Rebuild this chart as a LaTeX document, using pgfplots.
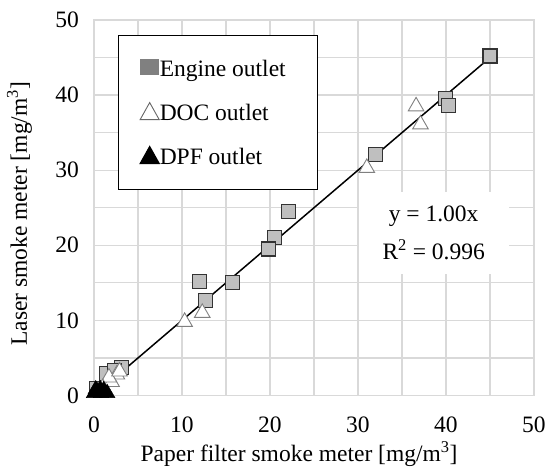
\documentclass[border=0pt]{standalone}
\usepackage{pgfplots}
\pgfplotsset{compat=1.18}
\usepackage{fontspec}
\setmainfont{Liberation Serif}

\definecolor{gridgray}{HTML}{D9D9D9}
\definecolor{sqfill}{HTML}{BFBFBF}
\definecolor{leggray}{HTML}{808080}

\begin{document}
\begin{tikzpicture}
\useasboundingbox (-94pt,-72.5pt) rectangle (452pt,395.5pt);
\begin{axis}[
scale only axis,
width=440pt,
height=375.5pt,
at={(0pt,0pt)},
anchor=south west,
xmin=0, xmax=50,
ymin=0, ymax=50,
xtick={0,10,...,50},
ytick={0,10,...,50},
minor xtick={5,15,...,45},
minor ytick={5,15,...,45},
grid=both,
major grid style={gridgray, line width=1.2pt},
minor grid style={gridgray, line width=1.2pt},
major tick length=0pt,
minor tick length=0pt,
axis line style={gridgray, line width=1.2pt},
font=\fontsize{23.5}{28}\selectfont,
/pgf/number format/assume math mode=true,
xticklabel style={inner sep=0pt, anchor=north, yshift=-21pt},
yticklabel style={inner sep=0pt, anchor=east, xshift=-15pt},
xlabel={Paper filter smoke meter [mg/m\textsuperscript{3}]},
ylabel={Laser smoke meter [mg/m\textsuperscript{3}]},
xlabel style={at={(axis description cs:0.466,-0.1758)}, anchor=base, inner sep=0pt},
ylabel style={at={(axis description cs:-0.1523,0.484)}, anchor=base, inner sep=0pt},
clip=false,
legend cell align=left,
legend style={at={(rel axis cs:0.0545,0.96)}, anchor=north west, draw=black,
  line width=1.2pt, fill=white, inner xsep=21pt, inner ysep=23.5pt,
  row sep=24pt, nodes={inner sep=0pt}},
]
% Engine outlet
\addplot[only marks, mark=square*, mark size=7pt,
  mark options={fill=sqfill, draw=black!80, line width=1.2pt}, forget plot] coordinates {
(45.0,45.2) (39.9,39.6) (40.3,38.6) (32.0,32.1) (22.1,24.5) (20.5,21.0)
(19.8,19.5) (15.7,15.0) (12.0,15.2) (12.7,12.7)
(1.4,2.9) (3.1,3.7) (2.3,3.3) (0.3,0.9)
};
% DOC outlet
\addplot[only marks, mark=triangle*, mark size=9pt,
  mark options={fill=white, draw=black!50, line width=0.9pt}, forget plot] coordinates {
(36.6,38.5) (37.1,36.1) (31.0,30.3) (12.3,11.0) (10.3,9.8)
(2.6,2.8) (2.0,1.8) (1.7,2.4) (2.9,3.2) (1.0,1.0)
};
% fit y = 1.00x
\addplot[black, line width=1.5pt, forget plot] coordinates {(0,0) (45.2,45.2)};
% DPF outlet
\addplot[only marks, mark=triangle*, mark size=9pt,
  mark options={fill=black, draw=black, line width=0.5pt}, forget plot] coordinates {
(0.0,0.3) (0.4,0.5) (0.8,0.3) (1.2,0.4) (0.2,0.8) (0.7,0.8) (1.1,0.7) (1.5,0.3)
};

\node[fill=white, inner sep=0pt, minimum width=150pt, minimum height=82pt, align=center]
  at (axis cs:38.6,21.6) {y = 1.00x\\[10pt]R\textsuperscript{2} = 0.996};

\addlegendimage{legend image code/.code={\fill[leggray] (1pt,-5.5pt) rectangle (19pt,9.5pt);}}
\addlegendentry{\rule[-5pt]{0pt}{21pt}\makebox[137pt][l]{Engine outlet}}
\addlegendimage{legend image code/.code={\draw[black!60, line width=0.9pt] (0.5pt,-6.5pt) -- (19.5pt,-6.5pt) -- (10pt,10.5pt) -- cycle;}}
\addlegendentry{\rule[-5pt]{0pt}{21pt}\makebox[137pt][l]{DOC outlet}}
\addlegendimage{legend image code/.code={\fill[black] (0.5pt,-6.5pt) -- (19.5pt,-6.5pt) -- (10pt,10.5pt) -- cycle;}}
\addlegendentry{\rule[-5pt]{0pt}{21pt}\makebox[137pt][l]{DPF outlet}}
\end{axis}
\end{tikzpicture}
\end{document}
